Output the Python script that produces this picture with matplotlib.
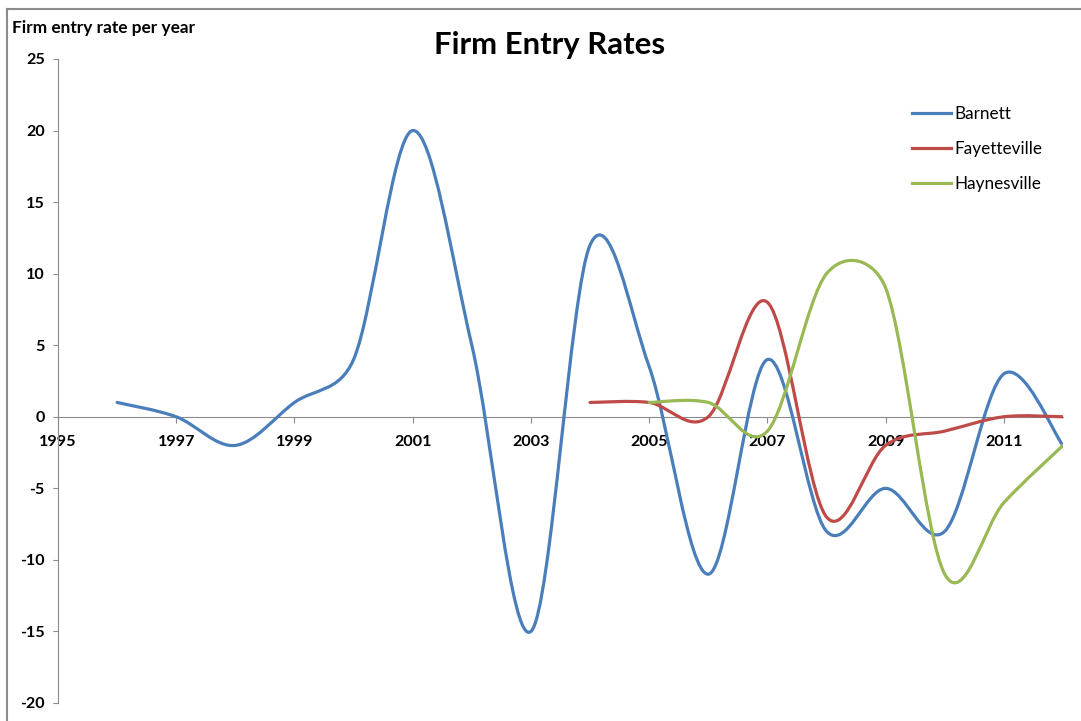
#!/usr/bin/env python3
"""Firm entry rates chart (Excel-style smoothed lines)."""

import matplotlib

matplotlib.use("Agg")
import matplotlib.pyplot as plt
import numpy as np
from matplotlib.lines import Line2D
from matplotlib.patches import PathPatch
from matplotlib.path import Path

barnett_years = [1996, 1997, 1998, 1999, 2000, 2001, 2002, 2003, 2004, 2005,
                 2006, 2007, 2008, 2009, 2010, 2011, 2012]
barnett_rates = [1, 0, -2, 1, 4, 20, 5, -15, 12, 3.5,
                 -11, 4, -8, -5, -8, 3, -2]

fayetteville_years = [2004, 2005, 2006, 2007, 2008, 2009, 2010, 2011, 2012]
fayetteville_rates = [1, 1, 0, 8, -7, -2, -1, 0, 0]

haynesville_years = [2005, 2006, 2007, 2008, 2009, 2010, 2011, 2012]
haynesville_rates = [1, 1, -1, 10, 9, -11, -6, -2]

year_ticks = [1995, 1997, 1999, 2001, 2003, 2005, 2007, 2009, 2011]
rate_ticks = [-20, -15, -10, -5, 0, 5, 10, 15, 20, 25]

BLUE = "#4a7ebb"
RED = "#be4b48"
GREEN = "#98b954"
AXIS_GRAY = "#8c8c8c"
FONT = "Lato"


def smooth_path(ax, xs, ys):
    """Bezier path through the points, built in screen space the way Excel
    smooths lines (1/6 chord tangents, capped at half the segment length)."""
    to_px = ax.transData
    pts = to_px.transform(np.column_stack([xs, ys]))
    n = len(pts)
    verts = [pts[0]]
    codes = [Path.MOVETO]
    for i in range(n - 1):
        p0 = pts[max(i - 1, 0)]
        p1 = pts[i]
        p2 = pts[i + 1]
        p3 = pts[min(i + 2, n - 1)]
        half = np.hypot(*(p2 - p1)) / 2
        v1 = (p2 - p0) / 6
        v2 = (p3 - p1) / 6
        for v in (v1, v2):
            length = np.hypot(*v)
            if length > half:
                v *= half / length
        verts += [p1 + v1, p2 - v2, p2]
        codes += [Path.CURVE4] * 3
    data_verts = to_px.inverted().transform(np.array(verts))
    return Path(data_verts, codes)


fig = plt.figure(figsize=(10.81, 7.21), dpi=100)
ax = fig.add_axes([58 / 1081, 1 - 703 / 721, (1063 - 58) / 1081, (703 - 59) / 721])
ax.set_xlim(1995, 2012)
ax.set_ylim(-20, 25)

series = [
    ("Barnett", barnett_years, barnett_rates, BLUE),
    ("Fayetteville", fayetteville_years, fayetteville_rates, RED),
    ("Haynesville", haynesville_years, haynesville_rates, GREEN),
]
handles = []
for label, xs, ys, color in series:
    patch = PathPatch(smooth_path(ax, xs, ys), facecolor="none", edgecolor=color,
                      linewidth=2.3, capstyle="round", joinstyle="round", zorder=3)
    ax.add_patch(patch)
    handles.append(Line2D([], [], color=color, linewidth=2.3, label=label))

for side in ("top", "right"):
    ax.spines[side].set_visible(False)
ax.spines["bottom"].set_position(("data", 0))
ax.spines["bottom"].set_color(AXIS_GRAY)
ax.spines["left"].set_color(AXIS_GRAY)
ax.spines["bottom"].set_linewidth(0.8)
ax.spines["left"].set_linewidth(0.8)

ax.set_xticks(year_ticks)
ax.set_xticklabels([str(y) for y in year_ticks])
ax.set_yticks(rate_ticks)
ax.set_yticklabels([str(v) for v in rate_ticks])
ax.tick_params(axis="x", direction="out", length=4.5, color=AXIS_GRAY, pad=8.5)
ax.tick_params(axis="y", direction="out", length=3.5, color=AXIS_GRAY, pad=6)
for lbl in ax.get_xticklabels() + ax.get_yticklabels():
    lbl.set_fontfamily(FONT)
    lbl.set_fontweight("bold")
    lbl.set_fontsize(11.6)

fig.text(550 / 1081, 1 - 45 / 721, "Firm Entry Rates", ha="center", va="center",
         fontsize=22.4, fontweight="bold", family=FONT)
fig.text(12 / 1081, 1 - 28 / 721, "Firm entry rate per year", ha="left", va="center",
         fontsize=12.4, fontweight="bold", family=FONT)

fig.legend(handles=handles, loc="upper left", bbox_to_anchor=(897 / 1081, 1 - 91 / 721),
           frameon=False, prop={"family": FONT, "size": 12.3}, handlelength=2.25,
           handletextpad=0.2, labelspacing=1.1)

# chart-area border (left and top edges visible)
fig.add_artist(Line2D([7 / 1081, 7 / 1081], [0, 1 - 9 / 721], color="#8c8c8c", linewidth=1.5))
fig.add_artist(Line2D([7 / 1081, 1], [1 - 9 / 721, 1 - 9 / 721], color="#8c8c8c", linewidth=1.5))

fig.savefig("out.png", dpi=100)
